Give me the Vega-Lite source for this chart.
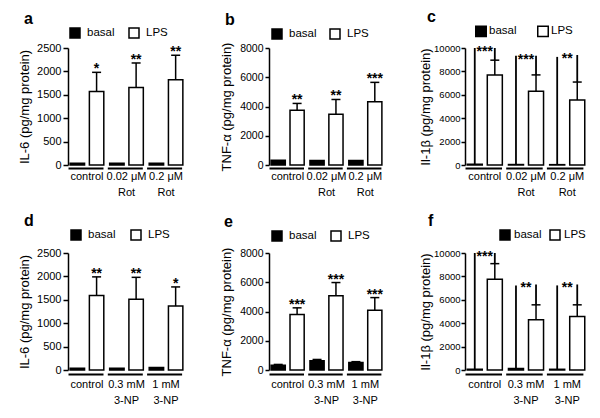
{
  "$schema": "https://vega.github.io/schema/vega-lite/v6.json",
  "background": "white",
  "padding": {"left": 18, "top": 9, "right": 5, "bottom": 5},
  "datasets": {
    "bars": [
      {"p": "a", "g": "control", "t": "basal", "v": 40},
      {"p": "a", "g": "control", "t": "LPS", "v": 1570, "u": 1980, "s": "*"},
      {"p": "a", "g": "0.02 μM|Rot", "t": "basal", "v": 35},
      {"p": "a", "g": "0.02 μM|Rot", "t": "LPS", "v": 1655, "u": 2180, "s": "**"},
      {"p": "a", "g": "0.2 μM|Rot", "t": "basal", "v": 40},
      {"p": "a", "g": "0.2 μM|Rot", "t": "LPS", "v": 1820, "u": 2345, "s": "**"},
      {"p": "b", "g": "control", "t": "basal", "v": 320},
      {"p": "b", "g": "control", "t": "LPS", "v": 3740, "u": 4210, "s": "**"},
      {"p": "b", "g": "0.02 μM|Rot", "t": "basal", "v": 300},
      {"p": "b", "g": "0.02 μM|Rot", "t": "LPS", "v": 3470, "u": 4480, "s": "**"},
      {"p": "b", "g": "0.2 μM|Rot", "t": "basal", "v": 310},
      {"p": "b", "g": "0.2 μM|Rot", "t": "LPS", "v": 4320, "u": 5650, "s": "***"},
      {"p": "c", "g": "control", "t": "basal", "v": 60, "b": 10000},
      {"p": "c", "g": "control", "t": "LPS", "v": 7700, "u": 8960, "s": "***", "b": 10000},
      {"p": "c", "g": "0.02 μM|Rot", "t": "basal", "v": 40, "b": 9330},
      {"p": "c", "g": "0.02 μM|Rot", "t": "LPS", "v": 6300, "u": 7700, "s": "***", "b": 9330},
      {"p": "c", "g": "0.2 μM|Rot", "t": "basal", "v": 30, "b": 9240},
      {"p": "c", "g": "0.2 μM|Rot", "t": "LPS", "v": 5550, "u": 7090, "s": "**", "b": 9400},
      {"p": "d", "g": "control", "t": "basal", "v": 40},
      {"p": "d", "g": "control", "t": "LPS", "v": 1590, "u": 1990, "s": "**"},
      {"p": "d", "g": "0.3 mM|3-NP", "t": "basal", "v": 40},
      {"p": "d", "g": "0.3 mM|3-NP", "t": "LPS", "v": 1510, "u": 1980, "s": "**"},
      {"p": "d", "g": "1 mM|3-NP", "t": "basal", "v": 55},
      {"p": "d", "g": "1 mM|3-NP", "t": "LPS", "v": 1365, "u": 1775, "s": "*"},
      {"p": "e", "g": "control", "t": "basal", "v": 330, "u": 380},
      {"p": "e", "g": "control", "t": "LPS", "v": 3800, "u": 4250, "s": "***"},
      {"p": "e", "g": "0.3 mM|3-NP", "t": "basal", "v": 630, "u": 720},
      {"p": "e", "g": "0.3 mM|3-NP", "t": "LPS", "v": 5070, "u": 5980, "s": "***"},
      {"p": "e", "g": "1 mM|3-NP", "t": "basal", "v": 520, "u": 570},
      {"p": "e", "g": "1 mM|3-NP", "t": "LPS", "v": 4090, "u": 4950, "s": "***"},
      {"p": "f", "g": "control", "t": "basal", "v": 70, "b": 10000},
      {"p": "f", "g": "control", "t": "LPS", "v": 7750, "u": 9090, "s": "***", "b": 10000},
      {"p": "f", "g": "0.3 mM|3-NP", "t": "basal", "v": 130, "b": 7230},
      {"p": "f", "g": "0.3 mM|3-NP", "t": "LPS", "v": 4300, "u": 5570, "s": "**", "b": 7310},
      {"p": "f", "g": "1 mM|3-NP", "t": "basal", "v": 60, "b": 7230},
      {"p": "f", "g": "1 mM|3-NP", "t": "LPS", "v": 4580, "u": 5570, "s": "**", "b": 7310}
    ]
  },
  "columns": 3,
  "spacing": {"row": 16, "column": 34},
  "resolve": {
    "scale": {"x": "independent", "y": "independent", "fill": "independent", "xOffset": "independent"},
    "legend": {"fill": "independent"},
    "axis": {"x": "independent", "y": "independent"}
  },
  "concat": [
    {
      "width": 117, "height": 117,
      "title": {"text": "a", "anchor": "start", "frame": "group", "dx": -44, "fontSize": 16, "fontWeight": "bold", "offset": 0},
      "data": {"name": "bars"},
      "transform": [{"filter": "datum.p === 'a'"}],
      "encoding": {
        "x": {"field": "g", "type": "nominal", "sort": ["control", "0.02 μM|Rot", "0.2 μM|Rot"], "scale": {"paddingInner": 0.1, "paddingOuter": 0.03},
          "axis": {"title": null, "labelAngle": 0, "ticks": false, "tickSize": 0, "domainWidth": 2, "domainDash": [35, 4.3], "offset": 3, "labelPadding": 2, "labelFontSize": 11, "labelExpr": "split(datum.label, '|')", "labelLineHeight": 16, "labelBaseline": "top"}}
      },
      "layer": [
        {"mark": {"type": "bar", "stroke": "black", "strokeWidth": 1.5},
          "encoding": {
            "xOffset": {"field": "t", "sort": ["basal", "LPS"], "scale": {"paddingInner": 0.25, "paddingOuter": 0.05}},
            "y": {"field": "v", "type": "quantitative", "scale": {"domain": [0, 2500], "nice": false},
              "axis": {"title": "IL-6 (pg/mg protein)", "values": [0, 500, 1000, 1500, 2000, 2500], "labelOverlap": false, "format": "d", "tickSize": 5, "labelPadding": 2, "labelFontSize": 11, "titleFontSize": 13, "titlePadding": 6, "minExtent": 31, "maxExtent": 31}},
            "fill": {"field": "t", "scale": {"domain": ["basal", "LPS"], "range": ["black", "white"]},
              "legend": {"orient": "none", "legendX": 1, "legendY": -21, "direction": "horizontal", "title": null, "symbolType": "square", "symbolSize": 100, "symbolStrokeColor": "black", "symbolStrokeWidth": 1.5, "labelFontSize": 11.5, "labelOffset": 6, "columnPadding": 11}}
          }},
        {"transform": [{"filter": "isValid(datum.u)"}], "mark": {"type": "rule", "strokeWidth": 1.5, "color": "black"},
          "encoding": {"xOffset": {"field": "t", "sort": ["basal", "LPS"]}, "y": {"field": "u", "type": "quantitative",
            "axis": {"title": "IL-6 (pg/mg protein)", "values": [0, 500, 1000, 1500, 2000, 2500], "labelOverlap": false, "format": "d", "tickSize": 5, "labelPadding": 2, "labelFontSize": 11, "titleFontSize": 13, "titlePadding": 6, "minExtent": 31, "maxExtent": 31}}, "y2": {"field": "v"}}},
        {"transform": [{"filter": "isValid(datum.u)"}], "mark": {"type": "tick", "size": 9, "thickness": 1.5, "color": "black", "opacity": 1},
          "encoding": {"xOffset": {"field": "t", "sort": ["basal", "LPS"]}, "y": {"field": "u", "type": "quantitative",
            "axis": {"title": "IL-6 (pg/mg protein)", "values": [0, 500, 1000, 1500, 2000, 2500], "labelOverlap": false, "format": "d", "tickSize": 5, "labelPadding": 2, "labelFontSize": 11, "titleFontSize": 13, "titlePadding": 6, "minExtent": 31, "maxExtent": 31}}}},
        {"transform": [{"filter": "isValid(datum.s)"}], "mark": {"type": "text", "fontSize": 14, "fontWeight": "bold", "baseline": "alphabetic", "dy": 1, "color": "black"},
          "encoding": {"xOffset": {"field": "t", "sort": ["basal", "LPS"]}, "y": {"field": "u", "type": "quantitative",
            "axis": {"title": "IL-6 (pg/mg protein)", "values": [0, 500, 1000, 1500, 2000, 2500], "labelOverlap": false, "format": "d", "tickSize": 5, "labelPadding": 2, "labelFontSize": 11, "titleFontSize": 13, "titlePadding": 6, "minExtent": 31, "maxExtent": 31}}, "text": {"field": "s"}}}
      ]
    },
    {
      "width": 115, "height": 117,
      "title": {"text": "b", "anchor": "start", "frame": "group", "dx": -44, "fontSize": 16, "fontWeight": "bold", "offset": 0},
      "data": {"name": "bars"},
      "transform": [{"filter": "datum.p === 'b'"}],
      "encoding": {
        "x": {"field": "g", "type": "nominal", "sort": ["control", "0.02 μM|Rot", "0.2 μM|Rot"], "scale": {"paddingInner": 0.1, "paddingOuter": 0.03},
          "axis": {"title": null, "labelAngle": 0, "ticks": false, "tickSize": 0, "domainWidth": 2, "domainDash": [34.5, 4.2], "offset": 3, "labelPadding": 2, "labelFontSize": 11, "labelExpr": "split(datum.label, '|')", "labelLineHeight": 16, "labelBaseline": "top"}}
      },
      "layer": [
        {"mark": {"type": "bar", "stroke": "black", "strokeWidth": 1.5},
          "encoding": {
            "xOffset": {"field": "t", "sort": ["basal", "LPS"], "scale": {"paddingInner": 0.25, "paddingOuter": 0.05}},
            "y": {"field": "v", "type": "quantitative", "scale": {"domain": [0, 8000], "nice": false},
              "axis": {"title": "TNF-α (pg/mg protein)", "values": [0, 2000, 4000, 6000, 8000], "labelOverlap": false, "format": "d", "tickSize": 4, "labelPadding": 2, "labelFontSize": 10.5, "titleFontSize": 13, "titlePadding": 8, "minExtent": 28, "maxExtent": 28}},
            "fill": {"field": "t", "scale": {"domain": ["basal", "LPS"], "range": ["black", "white"]},
              "legend": {"orient": "none", "legendX": 2, "legendY": -20, "direction": "horizontal", "title": null, "symbolType": "square", "symbolSize": 100, "symbolStrokeColor": "black", "symbolStrokeWidth": 1.5, "labelFontSize": 11.5, "labelOffset": 6, "columnPadding": 10}}
          }},
        {"transform": [{"filter": "isValid(datum.u)"}], "mark": {"type": "rule", "strokeWidth": 1.5, "color": "black"},
          "encoding": {"xOffset": {"field": "t", "sort": ["basal", "LPS"]}, "y": {"field": "u", "type": "quantitative",
            "axis": {"title": "TNF-α (pg/mg protein)", "values": [0, 2000, 4000, 6000, 8000], "labelOverlap": false, "format": "d", "tickSize": 4, "labelPadding": 2, "labelFontSize": 10.5, "titleFontSize": 13, "titlePadding": 8, "minExtent": 28, "maxExtent": 28}}, "y2": {"field": "v"}}},
        {"transform": [{"filter": "isValid(datum.u)"}], "mark": {"type": "tick", "size": 9, "thickness": 1.5, "color": "black", "opacity": 1},
          "encoding": {"xOffset": {"field": "t", "sort": ["basal", "LPS"]}, "y": {"field": "u", "type": "quantitative",
            "axis": {"title": "TNF-α (pg/mg protein)", "values": [0, 2000, 4000, 6000, 8000], "labelOverlap": false, "format": "d", "tickSize": 4, "labelPadding": 2, "labelFontSize": 10.5, "titleFontSize": 13, "titlePadding": 8, "minExtent": 28, "maxExtent": 28}}}},
        {"transform": [{"filter": "isValid(datum.s)"}], "mark": {"type": "text", "fontSize": 14, "fontWeight": "bold", "baseline": "alphabetic", "dy": 1, "color": "black"},
          "encoding": {"xOffset": {"field": "t", "sort": ["basal", "LPS"]}, "y": {"field": "u", "type": "quantitative",
            "axis": {"title": "TNF-α (pg/mg protein)", "values": [0, 2000, 4000, 6000, 8000], "labelOverlap": false, "format": "d", "tickSize": 4, "labelPadding": 2, "labelFontSize": 10.5, "titleFontSize": 13, "titlePadding": 8, "minExtent": 28, "maxExtent": 28}}, "text": {"field": "s"}}}
      ]
    },
    {
      "width": 122, "height": 117,
      "title": {"text": "c", "anchor": "start", "frame": "group", "dx": -38, "fontSize": 16, "fontWeight": "bold", "offset": 0},
      "data": {"name": "bars"},
      "transform": [{"filter": "datum.p === 'c'"}],
      "encoding": {
        "x": {"field": "g", "type": "nominal", "sort": ["control", "0.02 μM|Rot", "0.2 μM|Rot"], "scale": {"paddingInner": 0.1, "paddingOuter": 0.03},
          "axis": {"title": null, "labelAngle": 0, "ticks": false, "tickSize": 0, "domainWidth": 2, "domainDash": [36.5, 4.2], "offset": 3, "labelPadding": 2, "labelFontSize": 11, "labelExpr": "split(datum.label, '|')", "labelLineHeight": 16, "labelBaseline": "top"}}
      },
      "layer": [
        {"mark": {"type": "bar", "stroke": "black", "strokeWidth": 1.5},
          "encoding": {
            "xOffset": {"field": "t", "sort": ["basal", "LPS"], "scale": {"paddingInner": 0.25, "paddingOuter": 0.05}},
            "y": {"field": "v", "type": "quantitative", "scale": {"domain": [0, 10000], "nice": false},
              "axis": {"title": "Il-1β (pg/mg protein)", "values": [0, 2000, 4000, 6000, 8000, 10000], "labelOverlap": false, "format": "d", "tickSize": 4, "labelPadding": 1, "labelFontSize": 9.5, "titleFontSize": 13, "titlePadding": 5, "minExtent": 28, "maxExtent": 28}},
            "fill": {"field": "t", "scale": {"domain": ["basal", "LPS"], "range": ["black", "white"]},
              "legend": {"orient": "none", "legendX": 10, "legendY": -23, "direction": "horizontal", "title": null, "symbolType": "square", "symbolSize": 110, "symbolStrokeColor": "black", "symbolStrokeWidth": 1.5, "labelFontSize": 11.5, "labelOffset": 2, "columnPadding": 17}}
          }},
        {"transform": [{"filter": "isValid(datum.u)"}], "mark": {"type": "rule", "strokeWidth": 1.5, "color": "black"},
          "encoding": {"xOffset": {"field": "t", "sort": ["basal", "LPS"]}, "y": {"field": "u", "type": "quantitative",
            "axis": {"title": "Il-1β (pg/mg protein)", "values": [0, 2000, 4000, 6000, 8000, 10000], "labelOverlap": false, "format": "d", "tickSize": 4, "labelPadding": 1, "labelFontSize": 9.5, "titleFontSize": 13, "titlePadding": 5, "minExtent": 28, "maxExtent": 28}}, "y2": {"field": "v"}}},
        {"transform": [{"filter": "isValid(datum.u)"}], "mark": {"type": "tick", "size": 9, "thickness": 1.5, "color": "black", "opacity": 1},
          "encoding": {"xOffset": {"field": "t", "sort": ["basal", "LPS"]}, "y": {"field": "u", "type": "quantitative",
            "axis": {"title": "Il-1β (pg/mg protein)", "values": [0, 2000, 4000, 6000, 8000, 10000], "labelOverlap": false, "format": "d", "tickSize": 4, "labelPadding": 1, "labelFontSize": 9.5, "titleFontSize": 13, "titlePadding": 5, "minExtent": 28, "maxExtent": 28}}}},
        {"transform": [{"filter": "datum.t === 'basal' && isValid(datum.b)"}], "mark": {"type": "rule", "strokeWidth": 1.8, "color": "black"},
          "encoding": {"xOffset": {"field": "t", "sort": ["basal", "LPS"]}, "y": {"field": "v", "type": "quantitative",
            "axis": {"title": "Il-1β (pg/mg protein)", "values": [0, 2000, 4000, 6000, 8000, 10000], "labelOverlap": false, "format": "d", "tickSize": 4, "labelPadding": 1, "labelFontSize": 9.5, "titleFontSize": 13, "titlePadding": 5, "minExtent": 28, "maxExtent": 28}}, "y2": {"field": "b"}}},
        {"transform": [{"filter": "datum.t === 'LPS' && isValid(datum.b)"}], "mark": {"type": "rule", "strokeWidth": 1.8, "color": "black"},
          "encoding": {"xOffset": {"field": "t", "sort": ["basal", "LPS"]}, "y": {"field": "u", "type": "quantitative",
            "axis": {"title": "Il-1β (pg/mg protein)", "values": [0, 2000, 4000, 6000, 8000, 10000], "labelOverlap": false, "format": "d", "tickSize": 4, "labelPadding": 1, "labelFontSize": 9.5, "titleFontSize": 13, "titlePadding": 5, "minExtent": 28, "maxExtent": 28}}, "y2": {"field": "b"}}},
        {"transform": [{"filter": "isValid(datum.s)"}], "mark": {"type": "text", "fontSize": 14, "fontWeight": "bold", "baseline": "alphabetic", "dy": 8, "color": "black"},
          "encoding": {"y": {"field": "b", "type": "quantitative",
            "axis": {"title": "Il-1β (pg/mg protein)", "values": [0, 2000, 4000, 6000, 8000, 10000], "labelOverlap": false, "format": "d", "tickSize": 4, "labelPadding": 1, "labelFontSize": 9.5, "titleFontSize": 13, "titlePadding": 5, "minExtent": 28, "maxExtent": 28}}, "text": {"field": "s"}}}
      ]
    },
    {
      "width": 117, "height": 117,
      "title": {"text": "d", "anchor": "start", "frame": "group", "dx": -44, "fontSize": 16, "fontWeight": "bold", "offset": 0},
      "data": {"name": "bars"},
      "transform": [{"filter": "datum.p === 'd'"}],
      "encoding": {
        "x": {"field": "g", "type": "nominal", "sort": ["control", "0.3 mM|3-NP", "1 mM|3-NP"], "scale": {"paddingInner": 0.1, "paddingOuter": 0.03},
          "axis": {"title": null, "labelAngle": 0, "ticks": false, "tickSize": 0, "domainWidth": 2, "domainDash": [35, 4.3], "offset": 4, "labelPadding": 4, "labelFontSize": 11, "labelExpr": "split(datum.label, '|')", "labelLineHeight": 16, "labelBaseline": "top"}}
      },
      "layer": [
        {"mark": {"type": "bar", "stroke": "black", "strokeWidth": 1.5},
          "encoding": {
            "xOffset": {"field": "t", "sort": ["basal", "LPS"], "scale": {"paddingInner": 0.25, "paddingOuter": 0.05}},
            "y": {"field": "v", "type": "quantitative", "scale": {"domain": [0, 2500], "nice": false},
              "axis": {"title": "IL-6 (pg/mg protein)", "values": [0, 500, 1000, 1500, 2000, 2500], "labelOverlap": false, "format": "d", "tickSize": 5, "labelPadding": 2, "labelFontSize": 11, "titleFontSize": 13, "titlePadding": 6, "minExtent": 31, "maxExtent": 31}},
            "fill": {"field": "t", "scale": {"domain": ["basal", "LPS"], "range": ["black", "white"]},
              "legend": {"orient": "none", "legendX": 2, "legendY": -24, "direction": "horizontal", "title": null, "symbolType": "square", "symbolSize": 100, "symbolStrokeColor": "black", "symbolStrokeWidth": 1.5, "labelFontSize": 11.5, "labelOffset": 6, "columnPadding": 12}}
          }},
        {"transform": [{"filter": "isValid(datum.u)"}], "mark": {"type": "rule", "strokeWidth": 1.5, "color": "black"},
          "encoding": {"xOffset": {"field": "t", "sort": ["basal", "LPS"]}, "y": {"field": "u", "type": "quantitative",
            "axis": {"title": "IL-6 (pg/mg protein)", "values": [0, 500, 1000, 1500, 2000, 2500], "labelOverlap": false, "format": "d", "tickSize": 5, "labelPadding": 2, "labelFontSize": 11, "titleFontSize": 13, "titlePadding": 6, "minExtent": 31, "maxExtent": 31}}, "y2": {"field": "v"}}},
        {"transform": [{"filter": "isValid(datum.u)"}], "mark": {"type": "tick", "size": 9, "thickness": 1.5, "color": "black", "opacity": 1},
          "encoding": {"xOffset": {"field": "t", "sort": ["basal", "LPS"]}, "y": {"field": "u", "type": "quantitative",
            "axis": {"title": "IL-6 (pg/mg protein)", "values": [0, 500, 1000, 1500, 2000, 2500], "labelOverlap": false, "format": "d", "tickSize": 5, "labelPadding": 2, "labelFontSize": 11, "titleFontSize": 13, "titlePadding": 6, "minExtent": 31, "maxExtent": 31}}}},
        {"transform": [{"filter": "isValid(datum.s)"}], "mark": {"type": "text", "fontSize": 14, "fontWeight": "bold", "baseline": "alphabetic", "dy": 1, "color": "black"},
          "encoding": {"xOffset": {"field": "t", "sort": ["basal", "LPS"]}, "y": {"field": "u", "type": "quantitative",
            "axis": {"title": "IL-6 (pg/mg protein)", "values": [0, 500, 1000, 1500, 2000, 2500], "labelOverlap": false, "format": "d", "tickSize": 5, "labelPadding": 2, "labelFontSize": 11, "titleFontSize": 13, "titlePadding": 6, "minExtent": 31, "maxExtent": 31}}, "text": {"field": "s"}}}
      ]
    },
    {
      "width": 115, "height": 117,
      "title": {"text": "e", "anchor": "start", "frame": "group", "dx": -45, "fontSize": 16, "fontWeight": "bold", "offset": 0},
      "data": {"name": "bars"},
      "transform": [{"filter": "datum.p === 'e'"}],
      "encoding": {
        "x": {"field": "g", "type": "nominal", "sort": ["control", "0.3 mM|3-NP", "1 mM|3-NP"], "scale": {"paddingInner": 0.1, "paddingOuter": 0.03},
          "axis": {"title": null, "labelAngle": 0, "ticks": false, "tickSize": 0, "domainWidth": 2, "domainDash": [34.5, 4.2], "offset": 4, "labelPadding": 4, "labelFontSize": 11, "labelExpr": "split(datum.label, '|')", "labelLineHeight": 16, "labelBaseline": "top"}}
      },
      "layer": [
        {"mark": {"type": "bar", "stroke": "black", "strokeWidth": 1.5},
          "encoding": {
            "xOffset": {"field": "t", "sort": ["basal", "LPS"], "scale": {"paddingInner": 0.25, "paddingOuter": 0.05}},
            "y": {"field": "v", "type": "quantitative", "scale": {"domain": [0, 8000], "nice": false},
              "axis": {"title": "TNF-α (pg/mg protein)", "values": [0, 2000, 4000, 6000, 8000], "labelOverlap": false, "format": "d", "tickSize": 4, "labelPadding": 2, "labelFontSize": 10.5, "titleFontSize": 13, "titlePadding": 8, "minExtent": 28, "maxExtent": 28}},
            "fill": {"field": "t", "scale": {"domain": ["basal", "LPS"], "range": ["black", "white"]},
              "legend": {"orient": "none", "legendX": 2, "legendY": -23, "direction": "horizontal", "title": null, "symbolType": "square", "symbolSize": 100, "symbolStrokeColor": "black", "symbolStrokeWidth": 1.5, "labelFontSize": 11.5, "labelOffset": 6, "columnPadding": 11}}
          }},
        {"transform": [{"filter": "isValid(datum.u)"}], "mark": {"type": "rule", "strokeWidth": 1.5, "color": "black"},
          "encoding": {"xOffset": {"field": "t", "sort": ["basal", "LPS"]}, "y": {"field": "u", "type": "quantitative",
            "axis": {"title": "TNF-α (pg/mg protein)", "values": [0, 2000, 4000, 6000, 8000], "labelOverlap": false, "format": "d", "tickSize": 4, "labelPadding": 2, "labelFontSize": 10.5, "titleFontSize": 13, "titlePadding": 8, "minExtent": 28, "maxExtent": 28}}, "y2": {"field": "v"}}},
        {"transform": [{"filter": "isValid(datum.u)"}], "mark": {"type": "tick", "size": 9, "thickness": 1.5, "color": "black", "opacity": 1},
          "encoding": {"xOffset": {"field": "t", "sort": ["basal", "LPS"]}, "y": {"field": "u", "type": "quantitative",
            "axis": {"title": "TNF-α (pg/mg protein)", "values": [0, 2000, 4000, 6000, 8000], "labelOverlap": false, "format": "d", "tickSize": 4, "labelPadding": 2, "labelFontSize": 10.5, "titleFontSize": 13, "titlePadding": 8, "minExtent": 28, "maxExtent": 28}}}},
        {"transform": [{"filter": "isValid(datum.s)"}], "mark": {"type": "text", "fontSize": 14, "fontWeight": "bold", "baseline": "alphabetic", "dy": 1, "color": "black"},
          "encoding": {"xOffset": {"field": "t", "sort": ["basal", "LPS"]}, "y": {"field": "u", "type": "quantitative",
            "axis": {"title": "TNF-α (pg/mg protein)", "values": [0, 2000, 4000, 6000, 8000], "labelOverlap": false, "format": "d", "tickSize": 4, "labelPadding": 2, "labelFontSize": 10.5, "titleFontSize": 13, "titlePadding": 8, "minExtent": 28, "maxExtent": 28}}, "text": {"field": "s"}}}
      ]
    },
    {
      "width": 122, "height": 117,
      "title": {"text": "f", "anchor": "start", "frame": "group", "dx": -37, "fontSize": 16, "fontWeight": "bold", "offset": 0},
      "data": {"name": "bars"},
      "transform": [{"filter": "datum.p === 'f'"}],
      "encoding": {
        "x": {"field": "g", "type": "nominal", "sort": ["control", "0.3 mM|3-NP", "1 mM|3-NP"], "scale": {"paddingInner": 0.1, "paddingOuter": 0.03},
          "axis": {"title": null, "labelAngle": 0, "ticks": false, "tickSize": 0, "domainWidth": 2, "domainDash": [36.5, 4.2], "offset": 4, "labelPadding": 4, "labelFontSize": 11, "labelExpr": "split(datum.label, '|')", "labelLineHeight": 16, "labelBaseline": "top"}}
      },
      "layer": [
        {"mark": {"type": "bar", "stroke": "black", "strokeWidth": 1.5},
          "encoding": {
            "xOffset": {"field": "t", "sort": ["basal", "LPS"], "scale": {"paddingInner": 0.25, "paddingOuter": 0.05}},
            "y": {"field": "v", "type": "quantitative", "scale": {"domain": [0, 10000], "nice": false},
              "axis": {"title": "Il-1β (pg/mg protein)", "values": [0, 2000, 4000, 6000, 8000, 10000], "labelOverlap": false, "format": "d", "tickSize": 4, "labelPadding": 1, "labelFontSize": 9.5, "titleFontSize": 13, "titlePadding": 5, "minExtent": 28, "maxExtent": 28}},
            "fill": {"field": "t", "scale": {"domain": ["basal", "LPS"], "range": ["black", "white"]},
              "legend": {"orient": "none", "legendX": 34, "legendY": -24, "direction": "horizontal", "title": null, "symbolType": "square", "symbolSize": 100, "symbolStrokeColor": "black", "symbolStrokeWidth": 1.5, "labelFontSize": 11.5, "labelOffset": 3, "columnPadding": 5}}
          }},
        {"transform": [{"filter": "isValid(datum.u)"}], "mark": {"type": "rule", "strokeWidth": 1.5, "color": "black"},
          "encoding": {"xOffset": {"field": "t", "sort": ["basal", "LPS"]}, "y": {"field": "u", "type": "quantitative",
            "axis": {"title": "Il-1β (pg/mg protein)", "values": [0, 2000, 4000, 6000, 8000, 10000], "labelOverlap": false, "format": "d", "tickSize": 4, "labelPadding": 1, "labelFontSize": 9.5, "titleFontSize": 13, "titlePadding": 5, "minExtent": 28, "maxExtent": 28}}, "y2": {"field": "v"}}},
        {"transform": [{"filter": "isValid(datum.u)"}], "mark": {"type": "tick", "size": 9, "thickness": 1.5, "color": "black", "opacity": 1},
          "encoding": {"xOffset": {"field": "t", "sort": ["basal", "LPS"]}, "y": {"field": "u", "type": "quantitative",
            "axis": {"title": "Il-1β (pg/mg protein)", "values": [0, 2000, 4000, 6000, 8000, 10000], "labelOverlap": false, "format": "d", "tickSize": 4, "labelPadding": 1, "labelFontSize": 9.5, "titleFontSize": 13, "titlePadding": 5, "minExtent": 28, "maxExtent": 28}}}},
        {"transform": [{"filter": "datum.t === 'basal' && isValid(datum.b)"}], "mark": {"type": "rule", "strokeWidth": 1.8, "color": "black"},
          "encoding": {"xOffset": {"field": "t", "sort": ["basal", "LPS"]}, "y": {"field": "v", "type": "quantitative",
            "axis": {"title": "Il-1β (pg/mg protein)", "values": [0, 2000, 4000, 6000, 8000, 10000], "labelOverlap": false, "format": "d", "tickSize": 4, "labelPadding": 1, "labelFontSize": 9.5, "titleFontSize": 13, "titlePadding": 5, "minExtent": 28, "maxExtent": 28}}, "y2": {"field": "b"}}},
        {"transform": [{"filter": "datum.t === 'LPS' && isValid(datum.b)"}], "mark": {"type": "rule", "strokeWidth": 1.8, "color": "black"},
          "encoding": {"xOffset": {"field": "t", "sort": ["basal", "LPS"]}, "y": {"field": "u", "type": "quantitative",
            "axis": {"title": "Il-1β (pg/mg protein)", "values": [0, 2000, 4000, 6000, 8000, 10000], "labelOverlap": false, "format": "d", "tickSize": 4, "labelPadding": 1, "labelFontSize": 9.5, "titleFontSize": 13, "titlePadding": 5, "minExtent": 28, "maxExtent": 28}}, "y2": {"field": "b"}}},
        {"transform": [{"filter": "isValid(datum.s)"}], "mark": {"type": "text", "fontSize": 14, "fontWeight": "bold", "baseline": "alphabetic", "dy": 8, "color": "black"},
          "encoding": {"y": {"field": "b", "type": "quantitative",
            "axis": {"title": "Il-1β (pg/mg protein)", "values": [0, 2000, 4000, 6000, 8000, 10000], "labelOverlap": false, "format": "d", "tickSize": 4, "labelPadding": 1, "labelFontSize": 9.5, "titleFontSize": 13, "titlePadding": 5, "minExtent": 28, "maxExtent": 28}}, "text": {"field": "s"}}}
      ]
    }
  ],
  "config": {
    "font": "Liberation Sans",
    "view": {"stroke": null},
    "axis": {"grid": false, "domainColor": "black", "tickColor": "black", "labelColor": "black", "titleColor": "black", "titleFontWeight": "normal", "domainWidth": 1.5, "tickWidth": 1.5, "labelFont": "Liberation Sans", "titleFont": "Liberation Sans"},
    "legend": {"labelColor": "black", "labelFont": "Liberation Sans"},
    "title": {"color": "black", "font": "Liberation Sans"}
  }
}
